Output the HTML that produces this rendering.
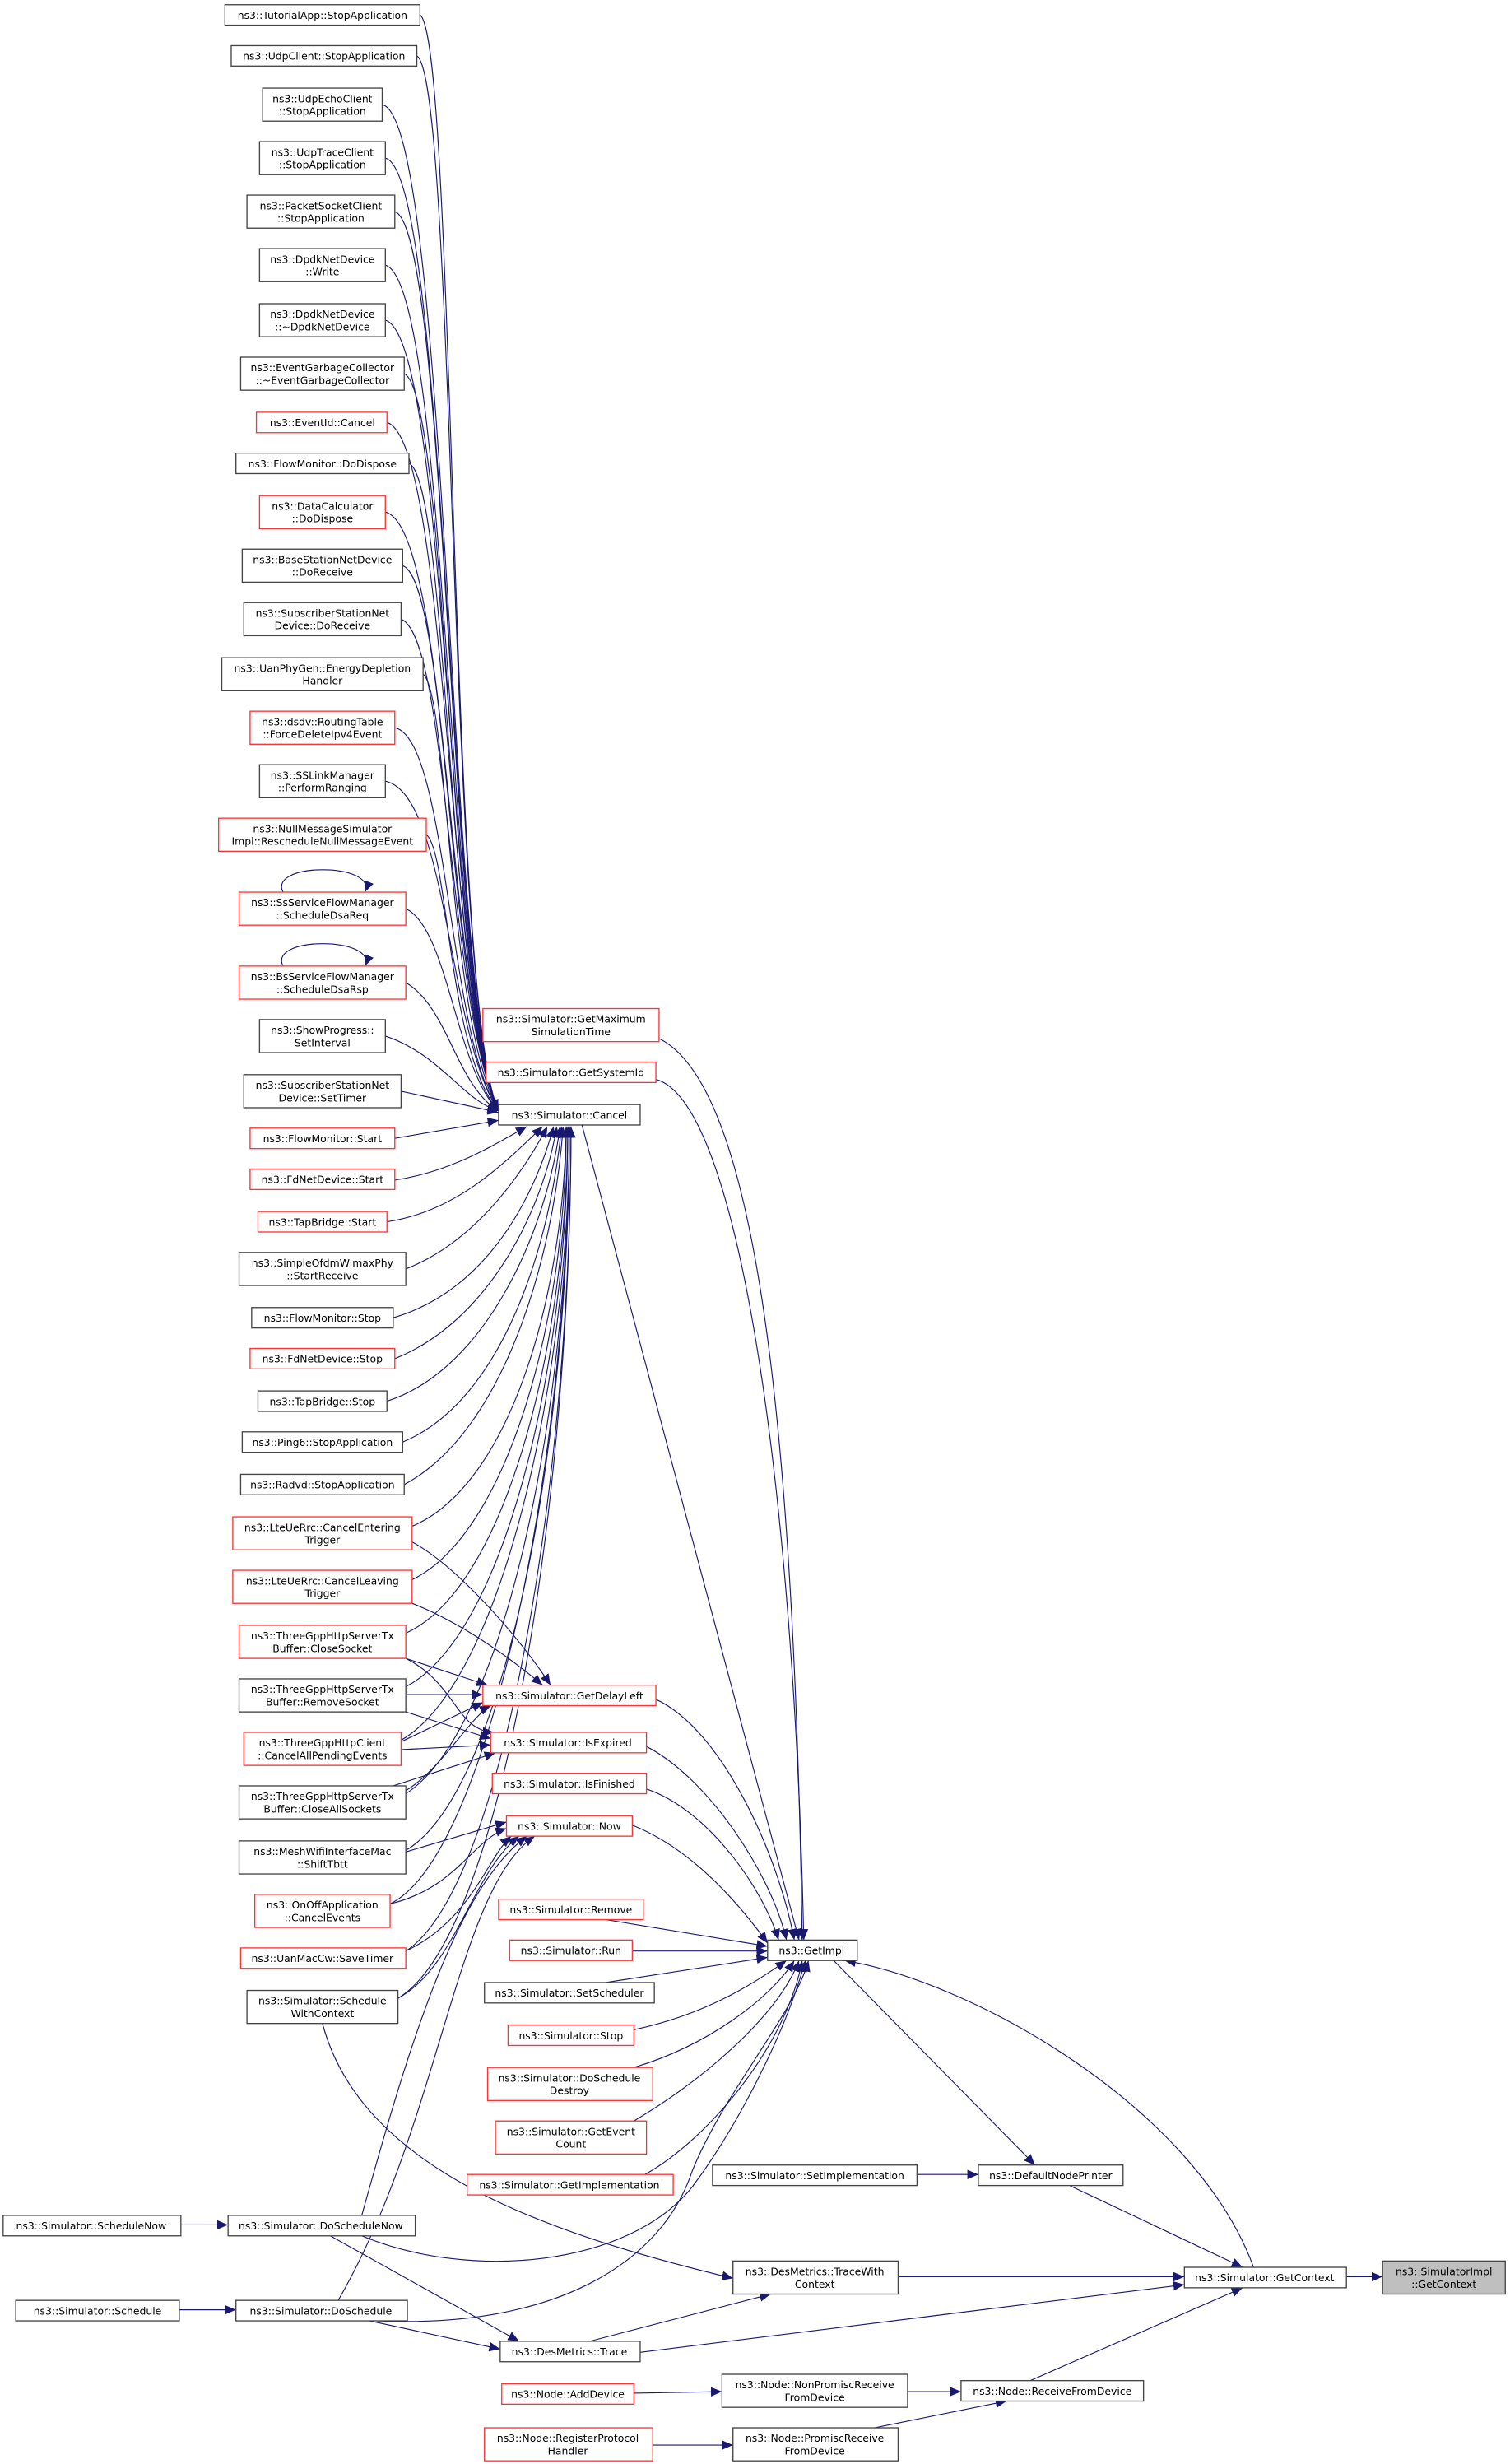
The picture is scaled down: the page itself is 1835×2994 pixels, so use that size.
<!DOCTYPE html>
<html><head><meta charset="utf-8"><style>
html,body{margin:0;padding:0;background:#fff;}
svg{display:block;}
text{font-family:"DejaVu Sans","Liberation Sans",sans-serif;font-size:6.5px;fill:#000;text-anchor:middle;}
.b{fill:#fff;stroke:#444;stroke-width:0.7;}
.r{fill:#fff;stroke:#ff3333;stroke-width:0.7;}
.g{fill:#bfbfbf;stroke:#444;stroke-width:0.7;}
path{fill:none;stroke:#191970;stroke-width:0.6;marker-end:url(#a);}
</style></head><body>
<svg width="1835" height="2994" viewBox="0 0 960 1566" preserveAspectRatio="none" xmlns="http://www.w3.org/2000/svg">
<defs><marker id="a" markerUnits="userSpaceOnUse" markerWidth="7" markerHeight="6" refX="7" refY="3" orient="auto"><polygon points="0,0 7,3 0,6" fill="#191970"/></marker></defs>
<g>
<!-- edges to Cancel from top -->
<path d="M267,9.5 C290,25 285,640 317,706"/>
<path d="M265,35.5 C290,50 285,640 317,706"/>
<path d="M243,66.5 C285,75 285,640 317,706"/>
<path d="M245,100.5 C285,110 285,640 317,706"/>
<path d="M251,134.5 C285,145 285,640 317,706"/>
<path d="M245,168.5 C285,180 285,640 317,706"/>
<path d="M245,203.5 C285,215 285,640 317,706"/>
<path d="M257,237.5 C285,250 285,640 317,706"/>
<path d="M246,268.5 C285,280 285,640 317,706"/>
<path d="M260,294.5 C285,305 285,640 317,706"/>
<path d="M245,325.5 C285,335 285,640 317,706"/>
<path d="M256,359.5 C285,370 285,640 317,706"/>
<path d="M255,393.5 C285,405 285,640 317,706"/>
<path d="M269,428.5 C285,440 285,650 317,706"/>
<path d="M251,462.5 C285,470 285,660 317,706"/>
<path d="M245,496.5 C285,505 285,660 317,706"/>
<path d="M271,530.5 C285,540 285,670 317,706"/>
<path d="M258,577.5 C285,590 290,680 317,706"/>
<path d="M258,624.5 C285,640 290,690 317,706"/>
<path d="M245,658.5 C280,670 295,700 317,706"/>
<path d="M255,693.5 L317,707"/>
<path d="M251,723.5 L317,712"/>
<path d="M251,750 C285,745 310,730 335,716"/>
<path d="M246,776.5 C290,770 320,740 345,716"/>
<path d="M258,806.5 C300,790 330,750 348,716"/>
<path d="M250,837.5 C310,820 340,760 352,716"/>
<path d="M251,863.5 C310,840 345,770 354,716"/>
<path d="M246,890.5 C310,870 348,780 356,716"/>
<path d="M256,916.5 C320,890 350,790 357,716"/>
<path d="M257,943.5 C320,910 352,800 358,716"/>
<path d="M262,970 C322,945 358,830 360,716"/>
<path d="M262,1004 C322,975 360,840 360,716"/>
<path d="M258,1038 C320,1010 360,860 361,716"/>
<path d="M258,1072 C320,1040 361,870 361,716"/>
<path d="M255,1106 C318,1070 362,880 362,716"/>
<path d="M258,1140 C320,1100 362,900 362,716"/>
<path d="M258,1176 C320,1140 362,920 362,716"/>
<path d="M248,1210 C310,1180 362,930 362,716"/>
<path d="M258,1240 C320,1200 363,940 363,716"/>
<path d="M253,1270 C320,1230 363,950 363,716"/>
<!-- to GetDelayLeft / IsExpired / Now -->
<path d="M262,980 C290,995 330,1040 350,1071"/>
<path d="M262,1019 C290,1030 320,1050 345,1071"/>
<path d="M258,1054 L310,1071"/>
<path d="M258,1077 L307,1077"/>
<path d="M255,1107 L307,1082"/>
<path d="M258,1138 C280,1125 300,1090 312,1084"/>
<path d="M258,1054 C290,1070 290,1100 314,1101"/>
<path d="M258,1088 L312,1105"/>
<path d="M255,1112 L312,1109"/>
<path d="M250,1135 L315,1114"/>
<path d="M258,1177 L322,1158"/>
<path d="M248,1210 C290,1200 300,1170 322,1162"/>
<path d="M258,1240 C300,1220 310,1180 325,1167"/>
<path d="M253,1270 C290,1250 300,1190 330,1167"/>
<path d="M230,1408 C260,1300 290,1200 335,1167"/>
<path d="M215,1462 C280,1350 290,1200 340,1167"/>
<!-- to GetImpl -->
<path d="M419,660 C480,690 505,900 510,1233"/>
<path d="M417,686 C470,700 505,950 511,1233"/>
<path d="M370,715 L508,1233"/>
<path d="M417,1080 C460,1100 495,1180 505,1233"/>
<path d="M411,1110 C450,1130 490,1190 500,1233"/>
<path d="M411,1137 C450,1150 485,1200 495,1233"/>
<path d="M402,1160 C440,1175 470,1210 488,1235"/>
<path d="M385,1220 L488,1237"/>
<path d="M402,1240 L488,1240"/>
<path d="M385,1260 L488,1244"/>
<path d="M403,1290 C450,1280 480,1260 500,1246"/>
<path d="M403,1314 C450,1300 490,1270 505,1246"/>
<path d="M403,1348 C450,1320 495,1280 508,1246"/>
<path d="M410,1382 C450,1360 500,1300 510,1246"/>
<path d="M230,1421 C300,1450 400,1440 440,1390 C470,1350 500,1290 512,1246"/>
<path d="M240,1475 C350,1480 420,1440 440,1380 C460,1330 505,1280 514,1246"/>
<path d="M797,1441 C760,1340 620,1260 537,1246"/>
<path d="M530,1246 L658,1376"/>
<path d="M583,1382 L622,1382"/>
<path d="M680,1389 L790,1441"/>
<path d="M571,1447 L753,1447"/>
<path d="M407,1495 L753,1452"/>
<path d="M375,1488 L490,1458"/>
<path d="M205,1286 C230,1380 350,1420 466,1448"/>
<path d="M210,1421 L330,1488"/>
<path d="M235,1475 L318,1493"/>
<path d="M856,1447 L879,1447"/>
<path d="M655,1513 L790,1454"/>
<path d="M577,1520 L611,1520"/>
<path d="M556,1543 L640,1526"/>
<path d="M403,1521 L459,1520"/>
<path d="M415,1554 L466,1554"/>
<path d="M115,1414 L145,1414"/>
<path d="M114,1468 L150,1468"/>
<path d="M180,567 C170,548 240,548 232,567"/>
<path d="M180,614 C170,595 240,595 232,614"/>
</g>
<g>
<rect class="b" x="143" y="3" width="124" height="13"/><text x="205" y="12">ns3::TutorialApp::StopApplication</text>
<rect class="b" x="147" y="29" width="118" height="13"/><text x="206" y="38">ns3::UdpClient::StopApplication</text>
<rect class="b" x="167" y="56" width="76" height="21"/><text x="205" y="65">ns3::UdpEchoClient</text><text x="205" y="73">::StopApplication</text>
<rect class="b" x="165" y="90" width="80" height="21"/><text x="205" y="99">ns3::UdpTraceClient</text><text x="205" y="107">::StopApplication</text>
<rect class="b" x="157" y="124" width="94" height="21"/><text x="204" y="133">ns3::PacketSocketClient</text><text x="204" y="141">::StopApplication</text>
<rect class="b" x="165" y="158" width="80" height="21"/><text x="205" y="167">ns3::DpdkNetDevice</text><text x="205" y="175">::Write</text>
<rect class="b" x="165" y="193" width="80" height="21"/><text x="205" y="202">ns3::DpdkNetDevice</text><text x="205" y="210">::~DpdkNetDevice</text>
<rect class="b" x="153" y="227" width="104" height="21"/><text x="205" y="236">ns3::EventGarbageCollector</text><text x="205" y="244">::~EventGarbageCollector</text>
<rect class="r" x="163" y="262" width="83" height="13"/><text x="205" y="271">ns3::EventId::Cancel</text>
<rect class="b" x="150" y="288" width="110" height="13"/><text x="205" y="297">ns3::FlowMonitor::DoDispose</text>
<rect class="r" x="165" y="315" width="80" height="21"/><text x="205" y="324">ns3::DataCalculator</text><text x="205" y="332">::DoDispose</text>
<rect class="b" x="154" y="349" width="102" height="21"/><text x="205" y="358">ns3::BaseStationNetDevice</text><text x="205" y="366">::DoReceive</text>
<rect class="b" x="155" y="383" width="100" height="21"/><text x="205" y="392">ns3::SubscriberStationNet</text><text x="205" y="400">Device::DoReceive</text>
<rect class="b" x="141" y="418" width="128" height="21"/><text x="205" y="427">ns3::UanPhyGen::EnergyDepletion</text><text x="205" y="435">Handler</text>
<rect class="r" x="159" y="452" width="92" height="21"/><text x="205" y="461">ns3::dsdv::RoutingTable</text><text x="205" y="469">::ForceDeleteIpv4Event</text>
<rect class="b" x="165" y="486" width="80" height="21"/><text x="205" y="495">ns3::SSLinkManager</text><text x="205" y="503">::PerformRanging</text>
<rect class="r" x="139" y="520" width="132" height="21"/><text x="205" y="529">ns3::NullMessageSimulator</text><text x="205" y="537">Impl::RescheduleNullMessageEvent</text>
<rect class="r" x="152" y="567" width="106" height="21"/><text x="205" y="576">ns3::SsServiceFlowManager</text><text x="205" y="584">::ScheduleDsaReq</text>
<rect class="r" x="152" y="614" width="106" height="21"/><text x="205" y="623">ns3::BsServiceFlowManager</text><text x="205" y="631">::ScheduleDsaRsp</text>
<rect class="b" x="165" y="648" width="80" height="21"/><text x="205" y="657">ns3::ShowProgress::</text><text x="205" y="665">SetInterval</text>
<rect class="b" x="155" y="683" width="100" height="21"/><text x="205" y="692">ns3::SubscriberStationNet</text><text x="205" y="700">Device::SetTimer</text>
<rect class="r" x="159" y="717" width="92" height="13"/><text x="205" y="726">ns3::FlowMonitor::Start</text>
<rect class="r" x="159" y="743" width="92" height="13"/><text x="205" y="752">ns3::FdNetDevice::Start</text>
<rect class="r" x="164" y="770" width="82" height="13"/><text x="205" y="779">ns3::TapBridge::Start</text>
<rect class="b" x="152" y="796" width="106" height="21"/><text x="205" y="805">ns3::SimpleOfdmWimaxPhy</text><text x="205" y="813">::StartReceive</text>
<rect class="b" x="160" y="831" width="90" height="13"/><text x="205" y="840">ns3::FlowMonitor::Stop</text>
<rect class="r" x="159" y="857" width="92" height="13"/><text x="205" y="866">ns3::FdNetDevice::Stop</text>
<rect class="b" x="164" y="884" width="82" height="13"/><text x="205" y="893">ns3::TapBridge::Stop</text>
<rect class="b" x="154" y="910" width="102" height="13"/><text x="205" y="919">ns3::Ping6::StopApplication</text>
<rect class="b" x="153" y="937" width="104" height="13"/><text x="205" y="946">ns3::Radvd::StopApplication</text>
<rect class="r" x="148" y="964" width="114" height="21"/><text x="205" y="973">ns3::LteUeRrc::CancelEntering</text><text x="205" y="981">Trigger</text>
<rect class="r" x="148" y="998" width="114" height="21"/><text x="205" y="1007">ns3::LteUeRrc::CancelLeaving</text><text x="205" y="1015">Trigger</text>
<rect class="r" x="152" y="1033" width="106" height="21"/><text x="205" y="1042">ns3::ThreeGppHttpServerTx</text><text x="205" y="1050">Buffer::CloseSocket</text>
<rect class="b" x="152" y="1067" width="106" height="21"/><text x="205" y="1076">ns3::ThreeGppHttpServerTx</text><text x="205" y="1084">Buffer::RemoveSocket</text>
<rect class="r" x="155" y="1101" width="100" height="21"/><text x="205" y="1110">ns3::ThreeGppHttpClient</text><text x="205" y="1118">::CancelAllPendingEvents</text>
<rect class="b" x="152" y="1135" width="106" height="21"/><text x="205" y="1144">ns3::ThreeGppHttpServerTx</text><text x="205" y="1152">Buffer::CloseAllSockets</text>
<rect class="b" x="152" y="1170" width="106" height="21"/><text x="205" y="1179">ns3::MeshWifiInterfaceMac</text><text x="205" y="1187">::ShiftTbtt</text>
<rect class="r" x="162" y="1204" width="86" height="21"/><text x="205" y="1213">ns3::OnOffApplication</text><text x="205" y="1221">::CancelEvents</text>
<rect class="r" x="153" y="1238" width="105" height="13"/><text x="205" y="1247">ns3::UanMacCw::SaveTimer</text>
<rect class="b" x="157" y="1265" width="96" height="21"/><text x="205" y="1274">ns3::Simulator::Schedule</text><text x="205" y="1282">WithContext</text>
<rect class="b" x="2" y="1408" width="113" height="13"/><text x="58" y="1417">ns3::Simulator::ScheduleNow</text>
<rect class="b" x="145" y="1408" width="119" height="13"/><text x="204" y="1417">ns3::Simulator::DoScheduleNow</text>
<rect class="b" x="10" y="1462" width="104" height="13"/><text x="62" y="1471">ns3::Simulator::Schedule</text>
<rect class="b" x="150" y="1462" width="109" height="13"/><text x="204" y="1471">ns3::Simulator::DoSchedule</text>

<rect class="r" x="307" y="641" width="112" height="21"/><text x="363" y="650">ns3::Simulator::GetMaximum</text><text x="363" y="658">SimulationTime</text>
<rect class="r" x="309" y="675" width="108" height="13"/><text x="363" y="684">ns3::Simulator::GetSystemId</text>
<rect class="b" x="317" y="702" width="90" height="13"/><text x="362" y="711">ns3::Simulator::Cancel</text>
<rect class="r" x="307" y="1071" width="110" height="13"/><text x="362" y="1080">ns3::Simulator::GetDelayLeft</text>
<rect class="r" x="312" y="1101" width="99" height="13"/><text x="361" y="1110">ns3::Simulator::IsExpired</text>
<rect class="r" x="313" y="1127" width="98" height="13"/><text x="362" y="1136">ns3::Simulator::IsFinished</text>
<rect class="r" x="322" y="1154" width="80" height="13"/><text x="362" y="1163">ns3::Simulator::Now</text>
<rect class="r" x="317" y="1207" width="92" height="13"/><text x="363" y="1216">ns3::Simulator::Remove</text>
<rect class="r" x="324" y="1233" width="78" height="13"/><text x="363" y="1242">ns3::Simulator::Run</text>
<rect class="b" x="308" y="1260" width="108" height="13"/><text x="362" y="1269">ns3::Simulator::SetScheduler</text>
<rect class="r" x="323" y="1287" width="80" height="13"/><text x="363" y="1296">ns3::Simulator::Stop</text>
<rect class="r" x="310" y="1314" width="105" height="21"/><text x="362" y="1323">ns3::Simulator::DoSchedule</text><text x="362" y="1331">Destroy</text>
<rect class="r" x="315" y="1348" width="96" height="21"/><text x="363" y="1357">ns3::Simulator::GetEvent</text><text x="363" y="1365">Count</text>
<rect class="r" x="297" y="1382" width="131" height="13"/><text x="362" y="1391">ns3::Simulator::GetImplementation</text>
<rect class="b" x="318" y="1488" width="89" height="13"/><text x="362" y="1497">ns3::DesMetrics::Trace</text>
<rect class="r" x="319" y="1515" width="84" height="13"/><text x="361" y="1524">ns3::Node::AddDevice</text>
<rect class="r" x="308" y="1543" width="107" height="21"/><text x="361" y="1552">ns3::Node::RegisterProtocol</text><text x="361" y="1560">Handler</text>

<rect class="b" x="488" y="1233" width="57" height="13"/><text x="516" y="1242">ns3::GetImpl</text>
<rect class="b" x="453" y="1376" width="130" height="13"/><text x="518" y="1385">ns3::Simulator::SetImplementation</text>
<rect class="b" x="622" y="1376" width="92" height="13"/><text x="668" y="1385">ns3::DefaultNodePrinter</text>
<rect class="b" x="466" y="1437" width="105" height="21"/><text x="518" y="1446">ns3::DesMetrics::TraceWith</text><text x="518" y="1454">Context</text>
<rect class="b" x="753" y="1441" width="103" height="13"/><text x="804" y="1450">ns3::Simulator::GetContext</text>
<rect class="g" x="879" y="1437" width="78" height="21"/><text x="918" y="1446">ns3::SimulatorImpl</text><text x="918" y="1454">::GetContext</text>
<rect class="b" x="459" y="1509" width="118" height="21"/><text x="518" y="1518">ns3::Node::NonPromiscReceive</text><text x="518" y="1526">FromDevice</text>
<rect class="b" x="611" y="1513" width="116" height="13"/><text x="669" y="1522">ns3::Node::ReceiveFromDevice</text>
<rect class="b" x="466" y="1543" width="105" height="21"/><text x="518" y="1552">ns3::Node::PromiscReceive</text><text x="518" y="1560">FromDevice</text>
</g>
</svg>
</body></html>
